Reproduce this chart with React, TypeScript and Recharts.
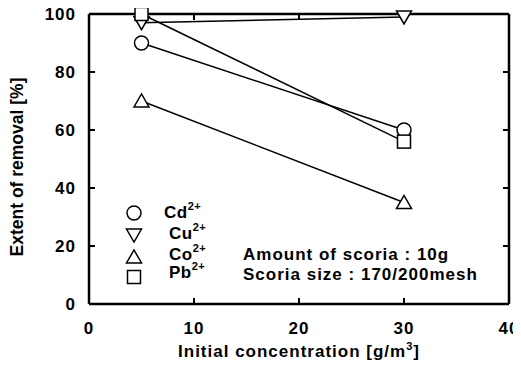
import { ScatterChart, Scatter, XAxis, YAxis } from "recharts";

const concentrations = [5, 30];
const cdRemoval = [90, 60];
const cuRemoval = [97, 99];
const coRemoval = [70, 35];
const pbRemoval = [100, 56];
const xTicks = [0, 10, 20, 30, 40];
const yTicks = [0, 20, 40, 60, 80, 100];

const toPoints = (vals: number[]) => concentrations.map((c, i) => ({ x: c, y: vals[i] }));

const FONT = "'Liberation Sans', Arial, sans-serif";

const marker = (kind: string) => (props: any) => {
  const { cx, cy } = props;
  const common = { fill: "#fff", stroke: "#000", strokeWidth: 1.5 };
  if (kind === "circle") return <circle cx={cx} cy={cy} r={7} {...common} />;
  if (kind === "down")
    return <polygon points={`${cx - 7.5},${cy - 6} ${cx + 7.5},${cy - 6} ${cx},${cy + 7}`} {...common} />;
  if (kind === "up")
    return <polygon points={`${cx - 7.5},${cy + 6} ${cx + 7.5},${cy + 6} ${cx},${cy - 7}`} {...common} />;
  if (kind === "none") return <g />;
  return <rect x={cx - 6.5} y={cy - 6.5} width={13} height={13} {...common} />;
};

const series = [
  { name: "Cd", vals: cdRemoval, kind: "circle" },
  { name: "Cu", vals: cuRemoval, kind: "down" },
  { name: "Co", vals: coRemoval, kind: "up" },
  { name: "Pb", vals: pbRemoval, kind: "square" },
];

const tickStyle = { fill: "#000", fontSize: 17, fontWeight: 700, fontFamily: FONT, letterSpacing: 1 };
const axisLine = { stroke: "#000", strokeWidth: 2.5 };
const tickLine = { stroke: "#000", strokeWidth: 2 };

const App = () => {
  return (
    <div style={{ position: "relative", width: 521, height: 384, margin: -8, background: "#fff" }}>
      <ScatterChart width={521} height={384} margin={{ top: 13, right: 11, bottom: 50, left: 39 }}>
        <XAxis
          xAxisId="b"
          type="number"
          dataKey="x"
          domain={[0, 40]}
          ticks={xTicks}
          height={30}
          tickSize={-6}
          tickMargin={24}
          tick={tickStyle}
          axisLine={axisLine}
          tickLine={tickLine}
        />
        <XAxis
          xAxisId="t"
          orientation="top"
          type="number"
          dataKey="x"
          domain={[0, 40]}
          ticks={xTicks}
          height={1}
          tickSize={-6}
          tickFormatter={() => ""}
          axisLine={axisLine}
          tickLine={tickLine}
        />
        <YAxis
          yAxisId="l"
          type="number"
          dataKey="y"
          domain={[0, 100]}
          ticks={yTicks}
          width={50}
          tickSize={-6}
          tickMargin={19}
          tick={tickStyle}
          axisLine={axisLine}
          tickLine={tickLine}
        />
        <YAxis
          yAxisId="r"
          orientation="right"
          type="number"
          dataKey="y"
          domain={[0, 100]}
          ticks={yTicks}
          width={1}
          tickSize={-6}
          tickFormatter={() => ""}
          axisLine={axisLine}
          tickLine={tickLine}
        />
        <Scatter
          xAxisId="t"
          yAxisId="r"
          data={toPoints(cdRemoval)}
          shape={marker("none")}
          isAnimationActive={false}
        />
        {series.map((s) => (
          <Scatter
            key={s.name}
            xAxisId="b"
            yAxisId="l"
            data={toPoints(s.vals)}
            line={{ stroke: "#000", strokeWidth: 1.5 }}
            shape={marker(s.kind)}
            isAnimationActive={false}
          />
        ))}
      </ScatterChart>
      <svg
        width={521}
        height={384}
        style={{ position: "absolute", left: 0, top: 0, pointerEvents: "none" }}
        fontFamily={FONT}
        fontWeight={700}
      >
        {series.map((s, i) => {
          const cys = [213, 235, 257, 277];
          const bases = [218, 239, 260, 278];
          const xs = [164, 169, 169, 169];
          return (
            <g key={s.name}>
              {marker(s.kind)({ cx: 134, cy: cys[i] })}
              <text x={xs[i]} y={bases[i]} fontSize={17} fill="#000" letterSpacing={0.5}>
                {s.name}
                <tspan dy={-8} fontSize={11}>2+</tspan>
              </text>
            </g>
          );
        })}
        <text x={243} y={260} fontSize={17} fill="#000" letterSpacing={1}>Amount of scoria : 10g</text>
        <text x={243} y={280} fontSize={17} fill="#000" letterSpacing={1}>Scoria size : 170/200mesh</text>
        <text x={299} y={357} fontSize={17} fill="#000" textAnchor="middle" letterSpacing={1}>
          Initial concentration [g/m<tspan dy={-7} fontSize={11}>3</tspan><tspan dy={7}>]</tspan>
        </text>
        <text x={23} y={167} fontSize={17.5} fill="#000" textAnchor="middle" transform="rotate(-90 23 167)">
          Extent of removal [%]
        </text>
      </svg>
    </div>
  );
};

export default App;
